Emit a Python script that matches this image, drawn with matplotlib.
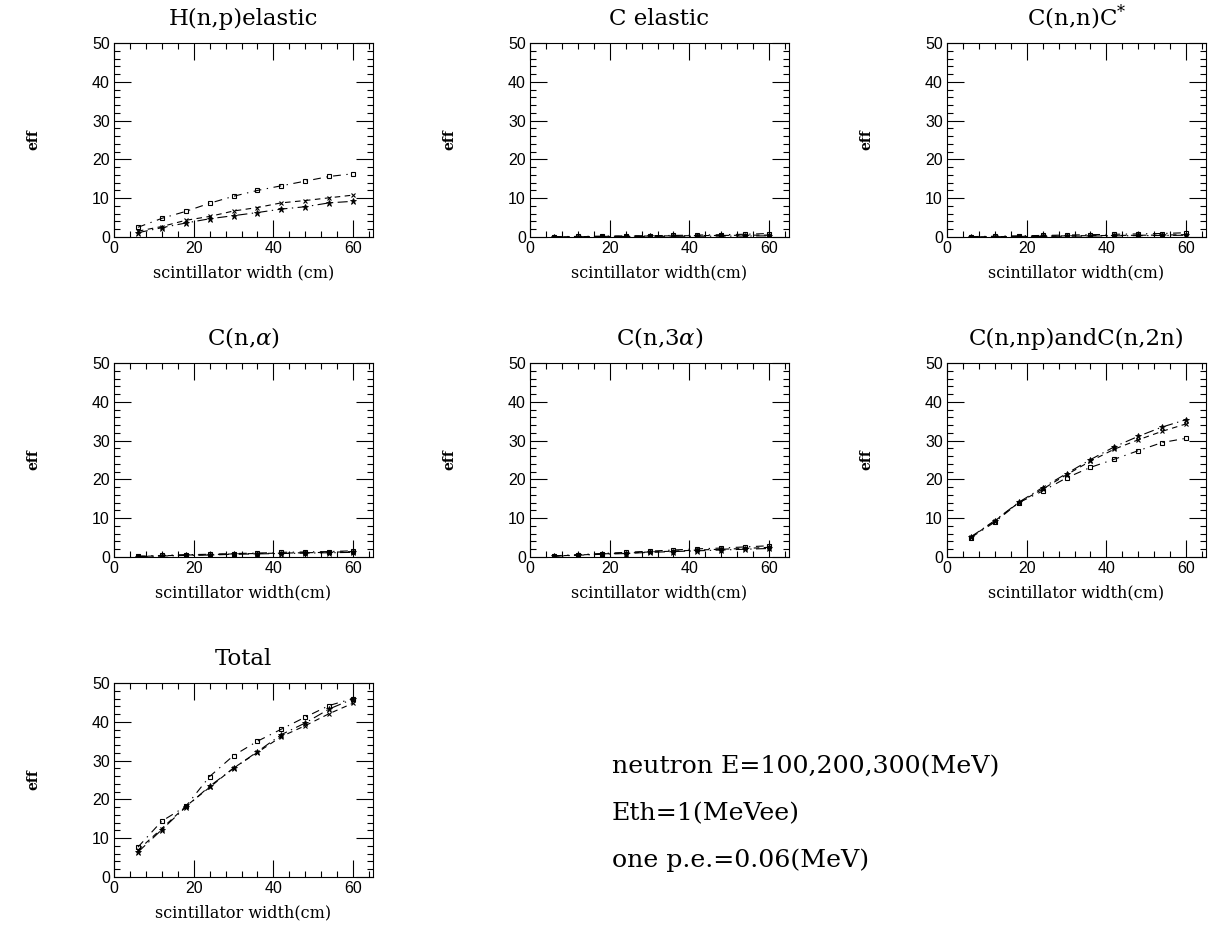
import numpy as np
import matplotlib
matplotlib.use("Agg")
import matplotlib.pyplot as plt
from matplotlib.ticker import MultipleLocator

plt.rcParams['mathtext.fontset'] = 'dejavuserif'

# scintillator widths (cm)
width = [6, 12, 18, 24, 30, 36, 42, 48, 54, 60]

titles = ["H(n,p)elastic", "C elastic", "C(n,n)C$^{*}$",
          "C(n,$\\alpha$)", "C(n,3$\\alpha$)", "C(n,np)andC(n,2n)", "Total"]
xlabels = ["scintillator width (cm)"] + ["scintillator width(cm)"] * 6

# efficiencies (%) for the three neutron energies, one list per panel
eff_sq = [
    [2.5, 4.8, 6.6, 8.7, 10.5, 12.0, 13.2, 14.4, 15.6, 16.3],
    [0.1, 0.15, 0.2, 0.3, 0.35, 0.4, 0.5, 0.6, 0.7, 0.9],
    [0.1, 0.2, 0.3, 0.4, 0.5, 0.6, 0.7, 0.8, 0.9, 1.1],
    [0.2, 0.4, 0.6, 0.7, 0.9, 1.0, 1.2, 1.3, 1.4, 1.6],
    [0.3, 0.6, 0.9, 1.2, 1.5, 1.8, 2.1, 2.3, 2.6, 2.9],
    [5.0, 9.0, 14.0, 17.0, 20.4, 23.1, 25.2, 27.4, 29.5, 30.6],
    [7.7, 14.4, 18.2, 25.9, 31.3, 35.0, 38.1, 41.2, 44.2, 46.0],
]
eff_x = [
    [1.5, 2.7, 4.3, 5.3, 6.7, 7.6, 8.8, 9.4, 10.1, 10.8],
    [0.05, 0.1, 0.15, 0.2, 0.25, 0.3, 0.35, 0.4, 0.45, 0.5],
    [0.05, 0.1, 0.15, 0.2, 0.3, 0.35, 0.4, 0.45, 0.5, 0.6],
    [0.15, 0.3, 0.5, 0.6, 0.8, 0.9, 1.0, 1.1, 1.2, 1.4],
    [0.25, 0.5, 0.8, 1.0, 1.3, 1.5, 1.8, 2.0, 2.2, 2.5],
    [5.1, 9.3, 14.0, 17.5, 21.2, 24.7, 27.8, 30.2, 32.4, 34.3],
    [6.9, 12.5, 18.2, 23.1, 28.1, 32.1, 36.2, 39.0, 42.1, 44.8],
]
eff_st = [
    [1.1, 2.4, 3.6, 4.7, 5.5, 6.3, 7.2, 7.8, 8.8, 9.2],
    [0.05, 0.08, 0.1, 0.12, 0.15, 0.18, 0.2, 0.22, 0.25, 0.3],
    [0.05, 0.08, 0.1, 0.15, 0.2, 0.25, 0.3, 0.35, 0.4, 0.45],
    [0.1, 0.25, 0.4, 0.5, 0.7, 0.8, 0.9, 1.0, 1.1, 1.2],
    [0.2, 0.45, 0.7, 0.9, 1.2, 1.4, 1.6, 1.8, 2.0, 2.2],
    [5.2, 9.4, 14.1, 17.9, 21.5, 25.1, 28.4, 31.1, 33.5, 35.4],
    [6.4, 12.2, 18.0, 23.4, 28.0, 32.3, 36.7, 39.7, 43.3, 45.9],
]

info = ["neutron E=100,200,300(MeV)", "Eth=1(MeVee)", "one p.e.=0.06(MeV)"]

fig = plt.figure(figsize=(12.12, 9.26), dpi=100)

lefts = [114, 530, 947]
bottoms = [237, 557, 877]
W, H = 259, 194

for i in range(7):
    r, c = divmod(i, 3)
    ax = fig.add_axes([lefts[c] / 1212, 1 - bottoms[r] / 926, W / 1212, H / 926])
    ax.plot(width, eff_sq[i], color='k', lw=0.8, ls=(0, (7, 5, 1.2, 5)),
            marker='s', ms=3.5, mfc='none', mew=0.8)
    ax.plot(width, eff_x[i], color='k', lw=0.8, ls=(0, (5, 4)),
            marker='x', ms=3.5, mew=0.8)
    ax.plot(width, eff_st[i], color='k', lw=0.8, ls=(0, (9, 4, 1.2, 4)),
            marker='*', ms=4.5, mew=0.6)
    ax.set_xlim(0, 65)
    ax.set_ylim(0, 50)
    ax.xaxis.set_major_locator(MultipleLocator(20))
    ax.xaxis.set_minor_locator(MultipleLocator(4))
    ax.yaxis.set_major_locator(MultipleLocator(10))
    ax.yaxis.set_minor_locator(MultipleLocator(2))
    ax.tick_params(which='both', direction='in', top=True, right=True, width=0.8)
    ax.tick_params(which='major', length=12, labelsize=11.5, pad=3)
    ax.tick_params(which='minor', length=4)
    for lab in ax.get_xticklabels() + ax.get_yticklabels():
        lab.set_family('Liberation Sans')
    for s in ax.spines.values():
        s.set_linewidth(0.8)
    ax.set_title(titles[i], family='DejaVu Serif', fontsize=16.5, pad=13)
    ax.set_xlabel(xlabels[i], family='DejaVu Serif', fontsize=11.5, labelpad=6)
    ax.set_ylabel("eff", family='DejaVu Serif', fontsize=10, fontweight='bold')
    ax.yaxis.set_label_coords(-0.285, 0.5)

for k, t in enumerate(info):
    fig.text(612 / 1212, 1 - (767 + 46.5 * k) / 926, t, family='DejaVu Serif',
             fontsize=18.2, va='center', ha='left')

fig.savefig("out.png", dpi=100)
